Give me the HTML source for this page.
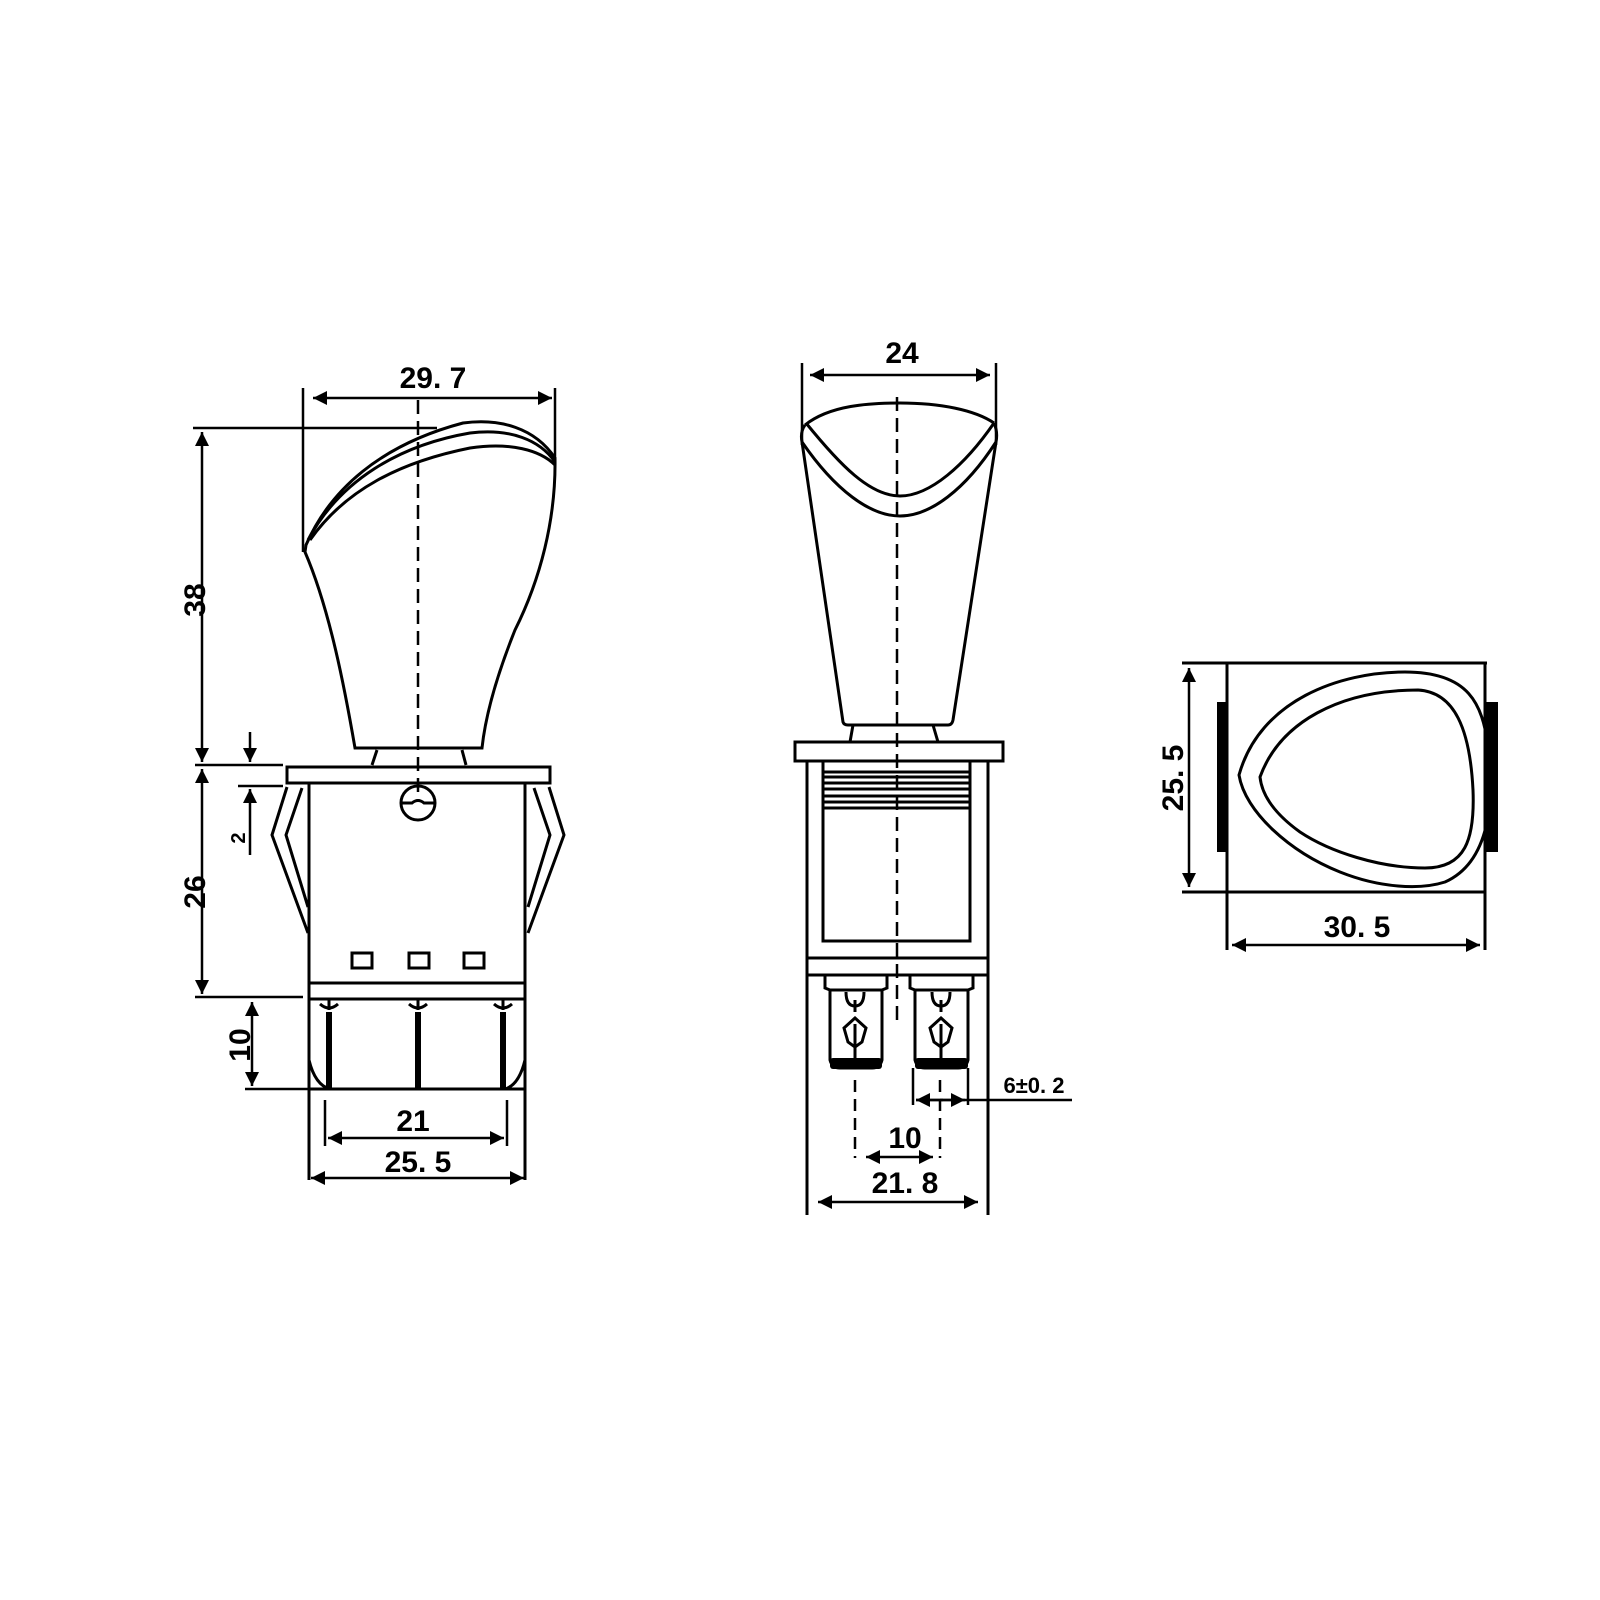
<!DOCTYPE html>
<html><head><meta charset="utf-8"><style>
html,body{margin:0;padding:0;background:#fff;}
svg{display:block;}
text{font-family:"Liberation Sans",sans-serif;font-weight:bold;fill:#000;}
</style></head><body>
<svg width="1600" height="1600" viewBox="0 0 1600 1600" xmlns="http://www.w3.org/2000/svg">
<defs>
<marker id="b" viewBox="0 0 10 10" refX="10" refY="5" markerWidth="24" markerHeight="14" orient="auto-start-reverse" markerUnits="userSpaceOnUse">
<path d="M0,0 L10,5 L0,10 Z" fill="#000"/></marker>
</defs>
<g fill="none" stroke="#000" stroke-width="3">
<path d="M306,545 C330,490 380,445 463,423 C500,418 535,428 555,458 C556,520 540,580 515,630 C495,680 485,720 482,748 L355,748 C345,690 330,610 305,552 Z"/>
<path d="M308,540 C340,480 400,445 470,433 C510,428 540,440 555,462"/>
<path d="M310,540 C345,490 400,462 470,448 C510,442 540,450 555,465"/>
<path d="M377,750 L372,765 M462,750 L466,765"/>
<rect x="287" y="767" width="263" height="16"/>
<path d="M309,783 L309,1180 M525,783 L525,1180"/>
<path d="M309,983 L525,983 M309,999 L525,999 M309,1089 L525,1089"/>
<circle cx="418" cy="803" r="17"/>
<path d="M401,803 L412,803 Q418,798 424,803 L435,803"/>
<rect x="352" y="953" width="20" height="15"/>
<rect x="409" y="953" width="20" height="15"/>
<rect x="464" y="953" width="20" height="15"/>
<path d="M287,787 L272,835 L308,933 M302,788 L286,835 L308,907"/>
<path d="M549,787 L564,835 L528,933 M534,788 L550,835 L528,907"/>
<path d="M309,1060 Q315,1085 330,1089 M525,1060 Q519,1085 505,1089"/>
<path d="M320,1004 Q329,1012 338,1004 M409,1004 Q418,1012 427,1004 M494,1004 Q503,1012 512,1004"/>
<path d="M329,1000 L329,1010 M418,1000 L418,1010 M503,1000 L503,1010"/>
</g>
<g fill="#000">
<rect x="326" y="1012" width="6" height="77"/>
<rect x="415" y="1012" width="6" height="77"/>
<rect x="500" y="1012" width="6" height="77"/>
</g>
<g fill="none" stroke="#000" stroke-width="2.5">
<path d="M418,400 L418,800" stroke-dasharray="14,7"/>
<path d="M303,388 L303,552 M555,388 L555,460"/>
<path d="M313,398 L552,398" marker-start="url(#b)" marker-end="url(#b)"/>
<path d="M193,428 L437,428 M195,765 L283,765 M195,997 L303,997 M245,1089 L320,1089 M238,786 L283,786"/>
<path d="M202,432 L202,762" marker-start="url(#b)" marker-end="url(#b)"/>
<path d="M202,769 L202,994" marker-start="url(#b)" marker-end="url(#b)"/>
<path d="M252,1002 L252,1086" marker-start="url(#b)" marker-end="url(#b)"/>
<path d="M250,732 L250,762" marker-end="url(#b)"/>
<path d="M250,855 L250,789" marker-end="url(#b)"/>
<path d="M325,1100 L325,1146 M507,1100 L507,1146"/>
<path d="M328,1138 L504,1138" marker-start="url(#b)" marker-end="url(#b)"/>
<path d="M311,1178 L524,1178" marker-start="url(#b)" marker-end="url(#b)"/>
</g>
<text x="433" y="388" font-size="30" text-anchor="middle">29. 7</text>
<text x="413" y="1131" font-size="30" text-anchor="middle">21</text>
<text x="418" y="1172" font-size="30" text-anchor="middle">25. 5</text>
<text transform="translate(205,600) rotate(-90)" font-size="30" text-anchor="middle">38</text>
<text transform="translate(205,892) rotate(-90)" font-size="30" text-anchor="middle">26</text>
<text transform="translate(250,1045) rotate(-90)" font-size="30" text-anchor="middle">10</text>
<text transform="translate(245,838) rotate(-90)" font-size="20" text-anchor="middle">2</text>

<g fill="none" stroke="#000" stroke-width="3">
<path d="M805,425 C830,405 870,403 900,403 C940,403 975,410 994,423"/>
<path d="M806,423 C840,465 870,496 900,496 C930,496 965,465 994,423"/>
<path d="M802,442 C835,490 870,516 900,516 C930,516 965,490 996,442"/>
<path d="M805,425 Q800,432 802,442 L843,722 Q844,725 848,725 L948,725 Q952,725 953,720 L996,442 Q998,432 994,423"/>
<path d="M853,725 L850,742 M933,725 L938,742"/>
<rect x="795" y="742" width="208" height="19"/>
<path d="M807,761 L807,1215 M988,761 L988,1215"/>
<path d="M823,761 L823,941 L970,941 L970,761"/>
<path d="M823,772 L970,772 M823,777 L970,777 M823,783 L970,783 M823,789 L970,789 M823,796 L970,796 M823,802 L970,802 M823,808 L970,808"/>
<path d="M807,958 L988,958 M807,975 L988,975"/>
<path d="M825,975 L825,988 L830,990 L830,1060 Q832,1068 840,1068 L872,1068 Q880,1068 882,1060 L882,990 L887,988 L887,975"/>
<path d="M830,990 L882,990"/>
<path d="M910,975 L910,988 L915,990 L915,1060 Q917,1068 925,1068 L958,1068 Q966,1068 968,1060 L968,990 L973,988 L973,975"/>
<path d="M915,990 L968,990"/>
<path d="M846,992 Q846,1006 855,1006 Q864,1006 864,992 M932,992 Q932,1006 941,1006 Q950,1006 950,992"/>
<path d="M855,1018 L866,1028 L862,1042 L855,1047 L848,1042 L844,1028 Z M941,1018 L952,1028 L948,1042 L941,1047 L934,1042 L930,1028 Z"/>
<path d="M855,1000 L855,1012 M855,1024 L855,1068 M941,1000 L941,1012 M941,1024 L941,1068"/>
</g>
<g fill="#000">
<rect x="830" y="1058" width="52" height="11" rx="3"/>
<rect x="915" y="1058" width="53" height="11" rx="3"/>
</g>
<g fill="none" stroke="#000" stroke-width="2.5">
<path d="M897,397 L897,1022" stroke-dasharray="14,7"/>
<path d="M802,363 L802,445 M996,363 L996,445"/>
<path d="M810,375 L990,375" marker-start="url(#b)" marker-end="url(#b)"/>
<path d="M855,1080 L855,1158 M940,1080 L940,1158" stroke-dasharray="12,7"/>
<path d="M913,1068 L913,1105 M968,1068 L968,1105"/>
<path d="M916,1100 L1072,1100"/>
<path d="M943,1100 L916,1100" marker-end="url(#b)"/>
<path d="M940,1100 L965,1100" marker-end="url(#b)"/>
<path d="M866,1157 L933,1157" marker-start="url(#b)" marker-end="url(#b)"/>
<path d="M818,1202 L978,1202" marker-start="url(#b)" marker-end="url(#b)"/>
</g>
<text x="902" y="363" font-size="30" text-anchor="middle">24</text>
<text x="1034" y="1093" font-size="22" text-anchor="middle">6±0. 2</text>
<text x="905" y="1148" font-size="30" text-anchor="middle">10</text>
<text x="905" y="1193" font-size="30" text-anchor="middle">21. 8</text>

<g fill="none" stroke="#000" stroke-width="3">
<path d="M1182,663 L1487,663 M1182,892 L1485,892 M1227,663 L1227,950 M1485,663 L1485,950"/>
<path d="M1239,775 C1260,700 1340,672 1405,672 C1470,672 1482,705 1488,745 C1495,800 1490,862 1445,882 C1420,890 1380,888 1340,872 C1290,852 1245,812 1239,775 Z"/>
<path d="M1260,777 C1280,722 1340,690 1418,690 C1455,692 1470,730 1473,790 C1475,840 1465,868 1425,868 C1380,868 1330,852 1300,832 C1275,814 1262,796 1260,777 Z"/>
</g>
<g fill="#000">
<rect x="1217" y="702" width="10" height="150"/>
<rect x="1485" y="702" width="13" height="150"/>
</g>
<g fill="none" stroke="#000" stroke-width="2.5">
<path d="M1189,668 L1189,887" marker-start="url(#b)" marker-end="url(#b)"/>
<path d="M1232,945 L1480,945" marker-start="url(#b)" marker-end="url(#b)"/>
</g>
<text transform="translate(1183,778) rotate(-90)" font-size="30" text-anchor="middle">25. 5</text>
<text x="1357" y="937" font-size="30" text-anchor="middle">30. 5</text>
</svg>
</body></html>
